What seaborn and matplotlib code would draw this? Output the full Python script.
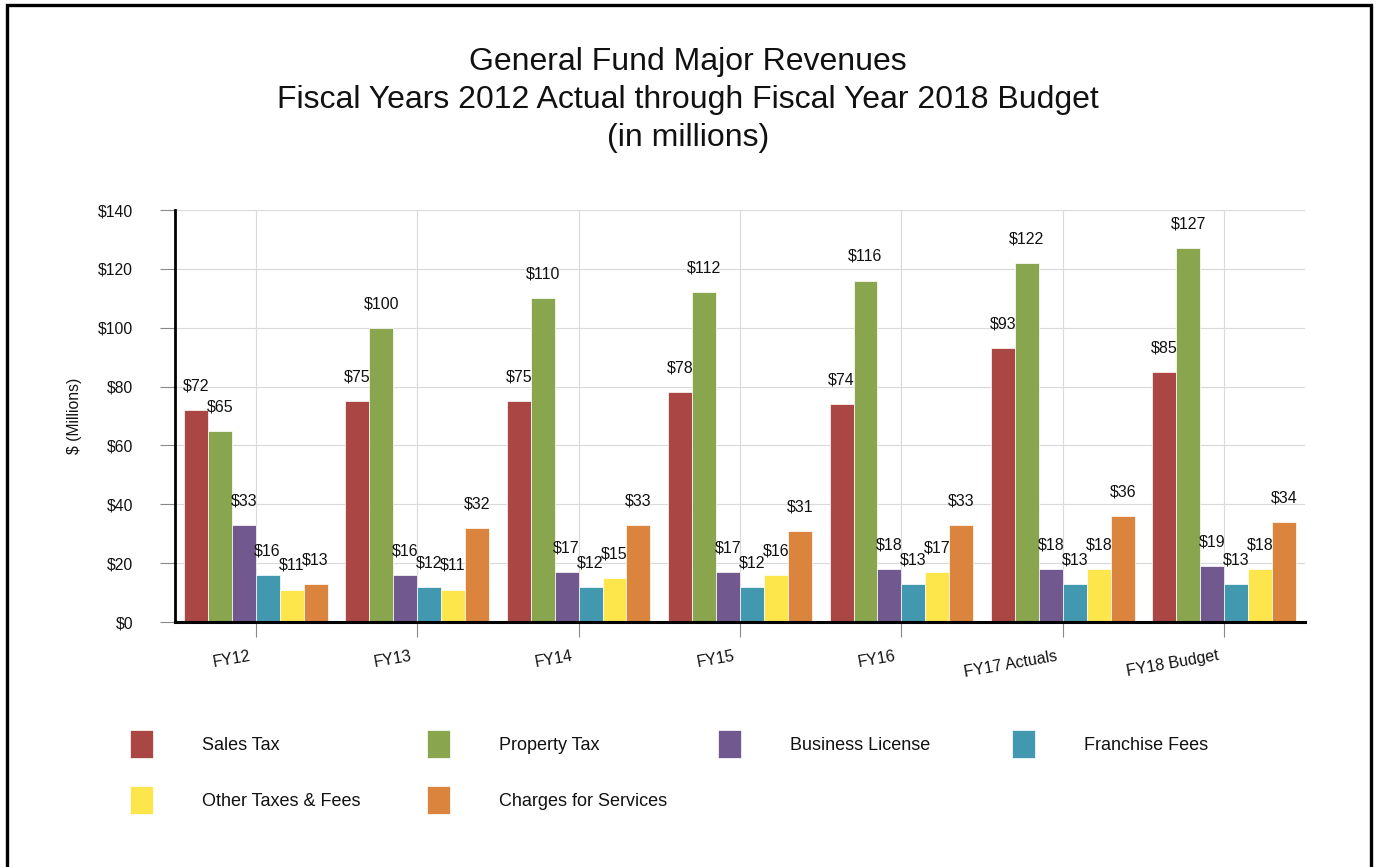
import matplotlib
matplotlib.use("Agg")
import matplotlib.pyplot as plt
from matplotlib.patches import Rectangle, Patch
import matplotlib.transforms as mtransforms
import seaborn as sns
import pandas as pd

years = ["FY12", "FY13", "FY14", "FY15", "FY16", "FY17 Actuals", "FY18 Budget"]
sales_tax = [72, 75, 75, 78, 74, 93, 85]
property_tax = [65, 100, 110, 112, 116, 122, 127]
business_license = [33, 16, 17, 17, 18, 18, 19]
franchise_fees = [16, 12, 12, 12, 13, 13, 13]
other_taxes = [11, 11, 15, 16, 17, 18, 18]
charges_services = [13, 32, 33, 31, 33, 36, 34]

series_names = ["Sales Tax", "Property Tax", "Business License", "Franchise Fees",
                "Other Taxes & Fees", "Charges for Services"]
series_values = [sales_tax, property_tax, business_license, franchise_fees,
                 other_taxes, charges_services]
colors = ["#AA4643", "#89A54E", "#71588F", "#4198AF", "#FDE64B", "#DB843D"]

y_ticks = [0, 20, 40, 60, 80, 100, 120, 140]
y_tick_labels = ["$0", "$20", "$40", "$60", "$80", "$100", "$120", "$140"]

rows = []
for name, vals in zip(series_names, series_values):
    for yr, v in zip(years, vals):
        rows.append({"Year": yr, "Series": name, "Value": v})
df = pd.DataFrame(rows)

sns.set_theme(style="white")
plt.rcParams["font.family"] = ["Liberation Sans", "DejaVu Sans"]

W, H = 1376, 867
fig = plt.figure(figsize=(W / 100, H / 100), dpi=100)
ax = fig.add_axes([175 / W, 1 - 622 / H, (1305 - 175) / W, (622 - 210) / H])

sns.barplot(data=df, x="Year", y="Value", hue="Series", order=years,
            hue_order=series_names, palette=colors, width=0.89, ax=ax,
            saturation=1, edgecolor="white", linewidth=0.5, legend=False)

for cont in ax.containers:
    ax.bar_label(cont, labels=[f"${v:.0f}" for v in cont.datavalues],
                 padding=12, fontsize=11.5, color="#111111")

ax.set_ylim(0, 140)
ax.set_xlim(-0.5, 6.5)
ax.grid(True, axis="both", color="#dadada", linewidth=0.8)
ax.set_axisbelow(True)
ax.tick_params(axis="y", length=11, width=0.8, color="#888888", pad=19, left=True)
ax.tick_params(axis="x", length=11, width=0.8, color="#888888", pad=8, bottom=True)

ax.set_yticks(y_ticks)
ax.set_yticklabels(y_tick_labels, fontsize=11.3, color="#111111")
ax.set_xticks(range(len(years)))
ax.set_xticklabels(years, fontsize=11.5, color="#111111", rotation=10,
                   ha="right", rotation_mode="anchor")
shift = mtransforms.ScaledTranslation(-7 / 100, 0, fig.dpi_scale_trans)
for lbl in ax.get_xticklabels():
    lbl.set_transform(lbl.get_transform() + shift)
ax.set_xlabel("")
ax.set_ylabel("$ (Millions)", fontsize=11.3, color="#111111")
ax.yaxis.set_label_coords(-0.082, 0.5)

for s in ["top", "right"]:
    ax.spines[s].set_visible(False)
ax.spines["left"].set_color("black")
ax.spines["left"].set_linewidth(2.0)
ax.spines["bottom"].set_color("black")
ax.spines["bottom"].set_linewidth(2.2)

fig.text(0.5, 1 - 100 / H,
         "General Fund Major Revenues\nFiscal Years 2012 Actual through Fiscal Year 2018 Budget\n(in millions)",
         ha="center", va="center", fontsize=23, color="#111111", linespacing=1.33)

# legend in 4 fixed-width columns
columns = [[0, 4], [1, 5], [2], [3]]
col_x = [130, 427, 718, 1012]
for cx, idxs in zip(col_x, columns):
    handles = [Patch(facecolor=colors[i], edgecolor="white", linewidth=0.5) for i in idxs]
    labels = [series_names[i] for i in idxs]
    leg = fig.legend(handles, labels, loc="upper left",
                     bbox_to_anchor=(cx / W, 1 - 730 / H),
                     frameon=False, fontsize=13, borderpad=0, borderaxespad=0,
                     handlelength=1.3, handleheight=2.0, handletextpad=2.7,
                     labelspacing=1.58)
    for t in leg.get_texts():
        t.set_color("#111111")

border = Rectangle((7 / W, -0.05), (1371 - 7) / W, 1.05 - 5.5 / H,
                   transform=fig.transFigure, fill=False, edgecolor="black",
                   linewidth=2.4, clip_on=False)
fig.patches.append(border)

fig.savefig("out.png", dpi=100)
